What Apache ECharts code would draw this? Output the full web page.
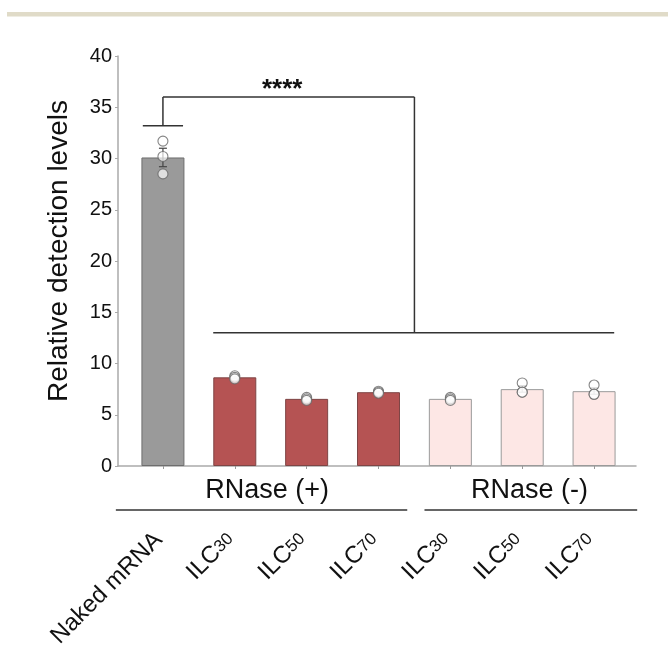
<!DOCTYPE html>
<html><head><meta charset="utf-8">
<script src="https://cdn.jsdelivr.net/npm/echarts@6/dist/echarts.min.js"></script>
<style>html,body{margin:0;padding:0;background:#fff}#c{width:668px;height:646px}</style>
</head><body><div id="c"></div>
<script>
// ---- data ----
const categories = ['Naked mRNA', 'ILC30', 'ILC50', 'ILC70', 'ILC30', 'ILC50', 'ILC70'];
const groupOf = ['naked', 'plus', 'plus', 'plus', 'minus', 'minus', 'minus'];
const meanValues = [30.1, 8.65, 6.55, 7.2, 6.55, 7.5, 7.3];
const semValues = [0.9, 0.1, 0.12, 0.1, 0.12, 0.3, 0.3];
const pointsNaked = [31.7, 30.2, 28.5];
const pointsPlus30 = [8.8, 8.65, 8.5];
const pointsPlus50 = [6.7, 6.55, 6.4];
const pointsPlus70 = [7.3, 7.2, 7.1];
const pointsMinus30 = [6.7, 6.55, 6.4];
const pointsMinus50 = [8.1, 7.2, 7.2];
const pointsMinus70 = [7.9, 7.0, 7.0];
const pointsByBar = [pointsNaked, pointsPlus30, pointsPlus50, pointsPlus70, pointsMinus30, pointsMinus50, pointsMinus70];
const yTickLabels = ['0', '5', '10', '15', '20', '25', '30', '35', '40'];
const groupLabels = ['RNase (+)', 'RNase (-)'];
const sigLabel = '****';
const yTitle = 'Relative detection levels';

// ---- annotation geometry (data coords: x in category index units, y in value units) ----
const bracket = { capY: 33.2, capHalf: 0.28, topY: 36.0, leftX: 0, rightX: 3.5, lowY: 13.0, lowFrom: 0.7, lowTo: 6.28, starsX: 1.66, starsY: 36.7 };
const groupSpans = [{ from: -0.655, to: 3.40, textX: 1.45 }, { from: 3.64, to: 6.60, textX: 5.10 }];
const groupLineY = -4.3, groupTextY = -2.35;

// ---- styles ----
const FONT = 'Liberation Sans, Arial, sans-serif';
const fills = { naked: '#9a9a9a', plus: '#b55353', minus: '#fde7e5' };
const borders = { naked: '#6e6e6e', plus: '#7e4545', minus: '#9a9a9a' };

const chart = echarts.init(document.getElementById('c'), null, { renderer: 'canvas' });

const scatterData = [];
pointsByBar.forEach((arr, i) => arr.forEach(v => scatterData.push([i, v])));

function xAt(api, f, y) {
  const p0 = api.coord([0, y]);
  const bw = api.size([1, 0])[0];
  return [p0[0] + f * bw, p0[1]];
}

const option = {
  animation: false,
  backgroundColor: '#ffffff',
  graphic: [{ type: 'rect', left: 7, top: 12, shape: { width: 661, height: 4.5 }, style: { fill: '#e0dbc8' }, silent: true }],
  grid: [
    { left: 127, right: 38, top: 56, bottom: 180, containLabel: false, outerBoundsMode: 'none' },
    { left: 118, right: 32, top: 56, bottom: 180, containLabel: false, outerBoundsMode: 'none' }
  ],
  xAxis: [
    {
      type: 'category', gridIndex: 0, data: categories,
      axisLine: { show: false },
      axisTick: { show: true, alignWithLabel: true, length: 3, lineStyle: { color: '#999' } },
      axisLabel: {
        rotate: 45, margin: 66, interval: 0, color: '#111', fontFamily: FONT, fontSize: 24,
        padding: [0, 6, 0, 0],
        formatter: v => v.startsWith('ILC') ? 'ILC{s|' + v.slice(3) + '}' : v,
        rich: { s: { fontSize: 17, fontFamily: FONT, color: '#111' } }
      }
    },
    {
      type: 'value', gridIndex: 1, min: 0, max: 1,
      axisLine: { show: true, lineStyle: { color: '#aaa', width: 1.5 } },
      axisTick: { show: false }, axisLabel: { show: false }, splitLine: { show: false }
    }
  ],
  yAxis: [
    { type: 'value', gridIndex: 0, min: 0, max: 40, show: false, splitLine: { show: false } },
    {
      type: 'value', gridIndex: 1, min: 0, max: 40, interval: 5,
      name: yTitle, nameLocation: 'middle', nameGap: 45,
      nameTextStyle: { fontFamily: FONT, fontSize: 28, color: '#111', padding: [0, 0, 0, 20] },
      axisLine: { show: true, lineStyle: { color: '#aaa', width: 1.5 } },
      axisTick: { show: true, length: 3, lineStyle: { color: '#aaa' } },
      axisLabel: { margin: 6, color: '#111', fontFamily: FONT, fontSize: 20, formatter: v => yTickLabels[v / 5] },
      splitLine: { show: false }
    }
  ],
  series: [
    {
      type: 'bar', xAxisIndex: 0, yAxisIndex: 0, barWidth: 43,
      data: meanValues.map((v, i) => ({ value: v, itemStyle: { color: fills[groupOf[i]], borderColor: borders[groupOf[i]], borderWidth: 1 } })),
      z: 2
    },
    {
      type: 'custom', xAxisIndex: 0, yAxisIndex: 0, z: 3,
      data: meanValues.map((m, i) => [i, m, semValues[i]]),
      renderItem: (params, api) => {
        const i = api.value(0), m = api.value(1), s = api.value(2);
        const top = api.coord([i, m + s]), bot = api.coord([i, m - s]);
        const cw = 4;
        const st = { stroke: '#444', lineWidth: 1.2 };
        return { type: 'group', children: [
          { type: 'line', shape: { x1: top[0], y1: top[1], x2: bot[0], y2: bot[1] }, style: st },
          { type: 'line', shape: { x1: top[0] - cw, y1: top[1], x2: top[0] + cw, y2: top[1] }, style: st },
          { type: 'line', shape: { x1: bot[0] - cw, y1: bot[1], x2: bot[0] + cw, y2: bot[1] }, style: st }
        ] };
      }
    },
    {
      type: 'scatter', xAxisIndex: 0, yAxisIndex: 0, z: 4,
      data: scatterData, symbol: 'circle', symbolSize: 10,
      itemStyle: { color: 'rgba(255,255,255,0.85)', borderColor: '#666', borderWidth: 1.1 }
    },
    {
      type: 'custom', xAxisIndex: 0, yAxisIndex: 0, z: 5, clip: false,
      data: [[0, 0]],
      renderItem: (params, api) => {
        const st = { stroke: '#333', lineWidth: 1.5 };
        const L = (a, b) => ({ type: 'line', shape: { x1: a[0], y1: a[1], x2: b[0], y2: b[1] }, style: st });
        const b = bracket;
        const ch = [
          L(xAt(api, b.leftX - b.capHalf, b.capY), xAt(api, b.leftX + b.capHalf, b.capY)),
          L(xAt(api, b.leftX, b.capY), xAt(api, b.leftX, b.topY)),
          L(xAt(api, b.leftX, b.topY), xAt(api, b.rightX, b.topY)),
          L(xAt(api, b.rightX, b.topY), xAt(api, b.rightX, b.lowY)),
          L(xAt(api, b.lowFrom, b.lowY), xAt(api, b.lowTo, b.lowY))
        ];
        const sp = xAt(api, b.starsX, b.starsY);
        ch.push({ type: 'text', x: sp[0], y: sp[1], style: { text: sigLabel, fill: '#111', font: 'bold 26px ' + FONT, align: 'center', verticalAlign: 'middle' } });
        groupSpans.forEach((g, k) => {
          ch.push(L(xAt(api, g.from, groupLineY), xAt(api, g.to, groupLineY)));
          const tp = xAt(api, g.textX, groupTextY);
          ch.push({ type: 'text', x: tp[0], y: tp[1], style: { text: groupLabels[k], fill: '#111', font: '27px ' + FONT, align: 'center', verticalAlign: 'middle' } });
        });
        return { type: 'group', children: ch };
      }
    }
  ]
};
chart.setOption(option);
</script>
</body></html>
